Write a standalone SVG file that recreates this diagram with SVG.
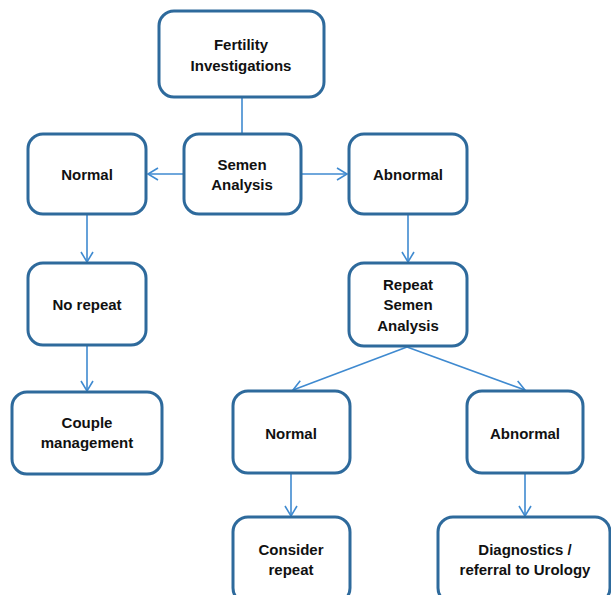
<svg xmlns="http://www.w3.org/2000/svg" width="611" height="595" viewBox="0 0 611 595">
<style>
.box{fill:#fff;stroke:#2e6a9c;stroke-width:3}
.lbl{font-family:"Liberation Sans",Arial,sans-serif;font-weight:bold;font-size:15px;fill:#111;text-anchor:middle}
.con{stroke:#3f8ad0;stroke-width:1.6;fill:none}
</style>
<defs>
<marker id="ah" markerUnits="userSpaceOnUse" markerWidth="14" markerHeight="14" refX="11" refY="7" orient="auto">
<path d="M1,1 L11,7 L1,13" fill="none" stroke="#3f8ad0" stroke-width="1.6"/>
</marker>
</defs>
<rect width="611" height="595" fill="#fff"/>
<g id="connectors">
<line class="con" x1="242" y1="98" x2="242" y2="134"/>
<line class="con" x1="184" y1="174" x2="148" y2="174" marker-end="url(#ah)"/>
<line class="con" x1="302" y1="174" x2="347" y2="174" marker-end="url(#ah)"/>
<line class="con" x1="87" y1="215" x2="87" y2="262" marker-end="url(#ah)"/>
<line class="con" x1="87" y1="346" x2="87" y2="391" marker-end="url(#ah)"/>
<line class="con" x1="408" y1="215" x2="408" y2="262" marker-end="url(#ah)"/>
<line class="con" x1="407" y1="347" x2="293" y2="390" marker-end="url(#ah)"/>
<line class="con" x1="407" y1="347" x2="525" y2="390" marker-end="url(#ah)"/>
<line class="con" x1="291" y1="474" x2="291" y2="516" marker-end="url(#ah)"/>
<line class="con" x1="525" y1="474" x2="525" y2="516" marker-end="url(#ah)"/>
</g>
<g id="fertility"><rect class="box" x="159" y="11" width="165" height="86" rx="15"/><text class="lbl" x="241" y="50">Fertility</text><text class="lbl" x="241" y="71">Investigations</text></g>
<g id="semen"><rect class="box" x="184" y="134" width="117" height="80" rx="15"/><text class="lbl" x="242" y="170">Semen</text><text class="lbl" x="242" y="190">Analysis</text></g>
<g id="normal1"><rect class="box" x="28" y="134" width="118" height="80" rx="15"/><text class="lbl" x="87" y="180">Normal</text></g>
<g id="norepeat"><rect class="box" x="28" y="263" width="118" height="82" rx="15"/><text class="lbl" x="87" y="310">No repeat</text></g>
<g id="couple"><rect class="box" x="12" y="392" width="150" height="82" rx="15"/><text class="lbl" x="87" y="428">Couple</text><text class="lbl" x="87" y="448">management</text></g>
<g id="abnormal1"><rect class="box" x="349" y="134" width="118" height="80" rx="15"/><text class="lbl" x="408" y="180">Abnormal</text></g>
<g id="repeat"><rect class="box" x="349" y="263" width="118" height="83" rx="15"/><text class="lbl" x="408" y="290">Repeat</text><text class="lbl" x="408" y="310">Semen</text><text class="lbl" x="408" y="331">Analysis</text></g>
<g id="normal2"><rect class="box" x="233" y="391" width="117" height="82" rx="15"/><text class="lbl" x="291" y="439">Normal</text></g>
<g id="abnormal2"><rect class="box" x="467" y="391" width="116" height="82" rx="15"/><text class="lbl" x="525" y="439">Abnormal</text></g>
<g id="consider"><rect class="box" x="233" y="517" width="117" height="86" rx="15"/><text class="lbl" x="291" y="555">Consider</text><text class="lbl" x="291" y="575">repeat</text></g>
<g id="diagnostics"><rect class="box" x="438" y="517" width="172" height="86" rx="15"/><text class="lbl" x="525" y="555">Diagnostics /</text><text class="lbl" x="525" y="575">referral to Urology</text></g>
</svg>
